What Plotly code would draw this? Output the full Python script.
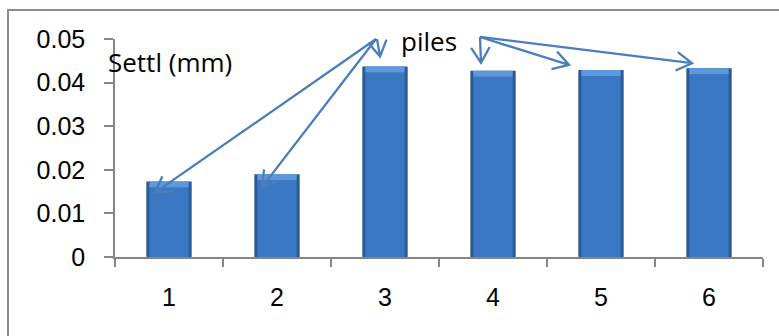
import math
import plotly.graph_objects as go

# Settlement of each pile (mm)
piles = ["1", "2", "3", "4", "5", "6"]
settlement = [0.0173, 0.0190, 0.0437, 0.0427, 0.0429, 0.0433]
y_ticks = [0, 0.01, 0.02, 0.03, 0.04, 0.05]
y_tick_text = ["0", "0.01", "0.02", "0.03", "0.04", "0.05"]

# Page and plot-area geometry (pixels)
FIG_W, FIG_H = 779, 336
M_L, M_R, M_T, M_B = 115, 16, 39, 79
PLOT_W = FIG_W - M_L - M_R
PLOT_H = FIG_H - M_T - M_B
Y_MAX = 0.05
N = len(piles)
CAT_W = PLOT_W / N

BAR_W = 0.42
EDGE_PX = 3
BEVEL_PX = 6
bevel = BEVEL_PX * Y_MAX / PLOT_H
inner_w = BAR_W - 2 * EDGE_PX / CAT_W

ARROW_COLOR = "#4a7ebb"


def px_x(px):
    return (px - M_L) / PLOT_W


def px_y(py):
    return (FIG_H - M_B - py) / PLOT_H


def bar_top_px(i):
    """Pixel position of the top centre of bar i."""
    cx = M_L + (i + 0.5) * CAT_W
    cy = M_T + PLOT_H * (1 - settlement[i] / Y_MAX)
    return cx, cy


fig = go.Figure()

# bar body: dark outer edge, mid-blue face, lighter bevelled top
fig.add_bar(x=piles, y=settlement, width=BAR_W,
            marker=dict(color="#2d5a97", line=dict(width=0)), hoverinfo="skip")
fig.add_bar(x=piles, y=[v - bevel for v in settlement], width=inner_w,
            marker=dict(color="#3b78c3", line=dict(width=0)), hoverinfo="skip")
fig.add_bar(x=piles, y=[bevel] * N, base=[v - bevel for v in settlement],
            width=inner_w, marker=dict(color="#5d98dc", line=dict(width=0)),
            hoverinfo="skip")

# arrows from the "piles" label down to the bars:
# (origin pixel, bar index, offset of the arrow tip from the bar top)
arrows = [
    ((376, 39), 0, (-14, 11)),
    ((376, 39), 1, (-15, 13)),
    ((377, 39), 2, (-5, -10)),
    ((480, 37), 3, (-12, -8)),
    ((480, 37), 4, (-32, -5)),
    ((480, 37), 5, (-17, -5)),
]

shapes = []
HEAD_LEN = 18
HEAD_ANG = math.radians(31)
for (ox, oy), i, (dx, dy) in arrows:
    bx, by = bar_top_px(i)
    tx, ty = bx + dx, by + dy
    ang = math.atan2(oy - ty, ox - tx)
    h1 = (tx + HEAD_LEN * math.cos(ang + HEAD_ANG), ty + HEAD_LEN * math.sin(ang + HEAD_ANG))
    h2 = (tx + HEAD_LEN * math.cos(ang - HEAD_ANG), ty + HEAD_LEN * math.sin(ang - HEAD_ANG))
    path = (f"M {px_x(ox):.5f} {px_y(oy):.5f} L {px_x(tx):.5f} {px_y(ty):.5f} "
            f"M {px_x(h1[0]):.5f} {px_y(h1[1]):.5f} L {px_x(tx):.5f} {px_y(ty):.5f} "
            f"L {px_x(h2[0]):.5f} {px_y(h2[1]):.5f}")
    shapes.append(dict(type="path", xref="paper", yref="paper", path=path,
                       line=dict(color=ARROW_COLOR, width=2.3)))

# chart border
shapes.append(dict(type="rect", xref="paper", yref="paper",
                   x0=px_x(8), x1=px_x(820), y0=px_y(10), y1=px_y(400),
                   line=dict(color="#8c8c8c", width=2), layer="below"))

label_font = dict(family="Open Sans", size=26, color="#000000")
annotations = [
    dict(text="Settl (mm)", xref="paper", yref="paper", x=px_x(106), y=px_y(62),
         xanchor="left", yanchor="middle", showarrow=False, font=label_font),
    dict(text="piles", xref="paper", yref="paper", x=px_x(399), y=px_y(41),
         xanchor="left", yanchor="middle", showarrow=False, font=label_font),
]

axis_grey = "#868686"
tick_font = dict(family="Liberation Sans", size=25, color="#000000")

fig.update_layout(
    width=FIG_W, height=FIG_H,
    margin=dict(l=M_L, r=M_R, t=M_T, b=M_B, pad=0),
    paper_bgcolor="white", plot_bgcolor="white",
    barmode="overlay", showlegend=False,
    shapes=shapes, annotations=annotations,
    xaxis=dict(type="category", range=[-0.5, N - 0.5], showgrid=False,
               showline=True, linecolor=axis_grey, linewidth=1.5,
               ticks="outside", tickson="boundaries", ticklen=8,
               tickcolor=axis_grey, tickwidth=1.5, tickfont=tick_font,
               ticklabelstandoff=17, fixedrange=True, zeroline=False),
    yaxis=dict(range=[0, Y_MAX], tickvals=y_ticks, ticktext=y_tick_text,
               showgrid=False, showline=True, linecolor=axis_grey, linewidth=1.5,
               ticks="outside", ticklen=9, tickcolor=axis_grey, tickwidth=1.5,
               tickfont=tick_font, ticklabelstandoff=14, zeroline=False,
               fixedrange=True),
)

fig.write_html("out.html")
